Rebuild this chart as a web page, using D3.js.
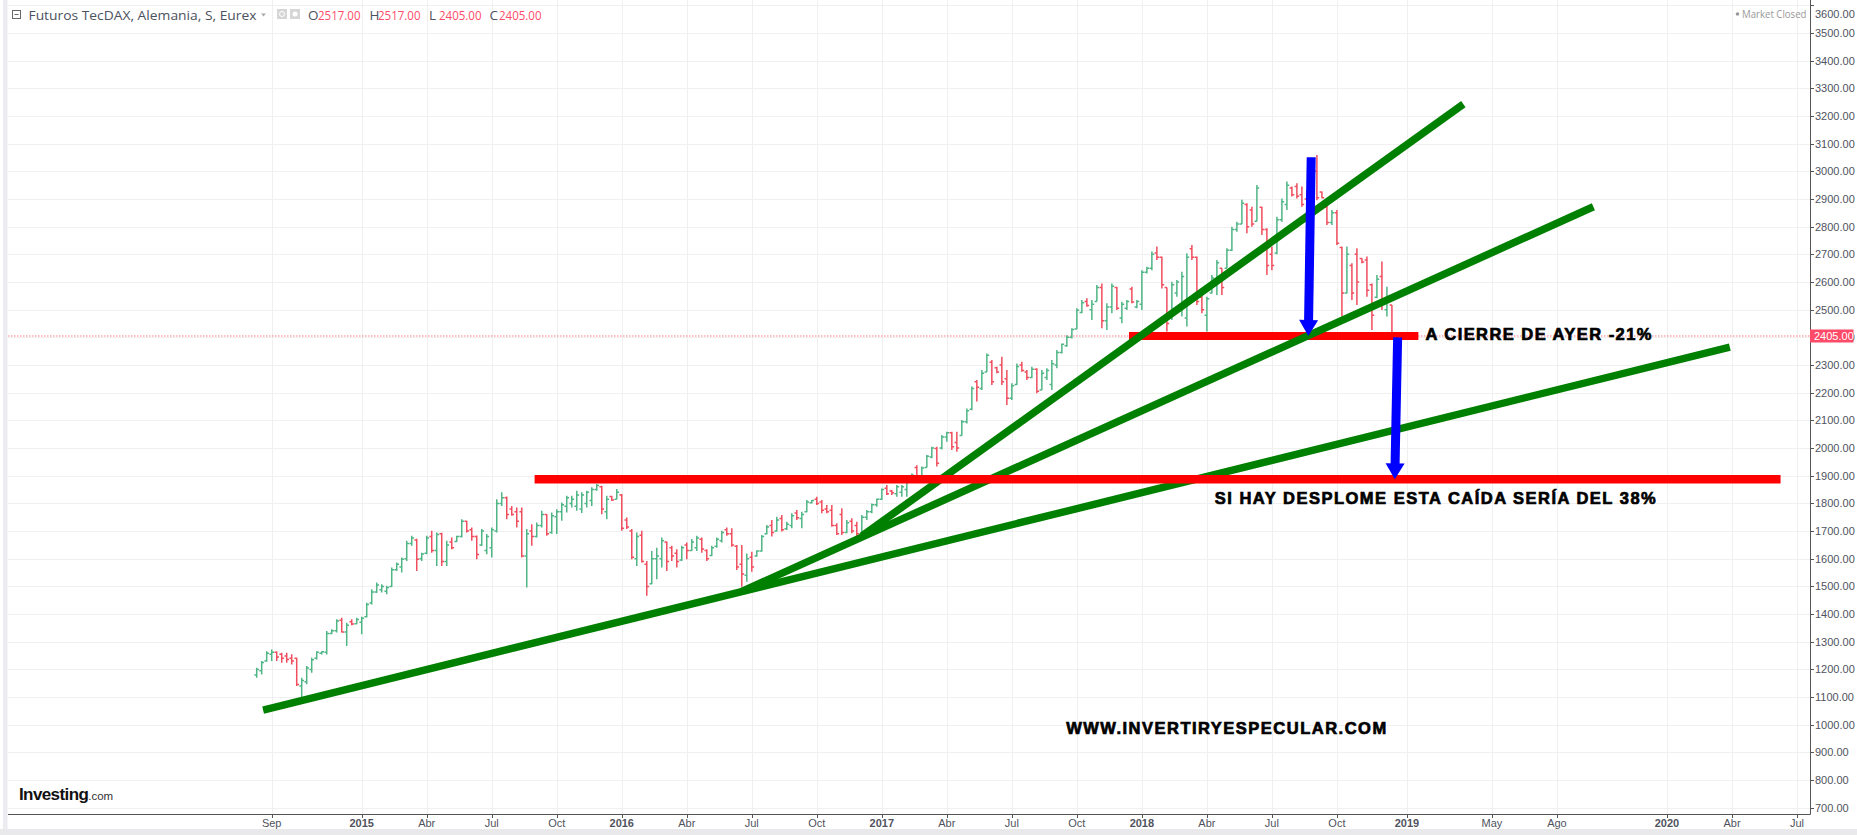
<!DOCTYPE html>
<html><head><meta charset="utf-8">
<script src="https://cdn.jsdelivr.net/npm/d3@7"></script>
<style>html,body{margin:0;padding:0;background:#fff;overflow:hidden}svg{display:block}</style>
</head><body>
<svg id="c" width="1857" height="835"></svg>
<script>
// ---------- DATA ----------
const title = "Futuros TecDAX, Alemania, S, Eurex";
const firstWeek = "2014-08-11";           // weekly bars, one per Monday
const open  = [1180,1195,1230,1255,1262,1255,1248,1240,1240,1140,1155,1200,1240,1258,1262,1330,1340,1378,1335,1372,1365,1370,1390,1440,1480,1488,1482,1500,1560,1570,1600,1655,1668,1600,1620,1680,1630,1690,1590,1660,1662,1680,1735,1705,1680,1650,1630,1640,1700,1800,1820,1780,1770,1770,1610,1700,1680,1720,1760,1695,1752,1770,1790,1800,1790,1780,1800,1810,1850,1860,1770,1825,1815,1830,1740,1700,1600,1685,1580,1510,1600,1600,1660,1640,1620,1595,1650,1630,1640,1670,1630,1612,1645,1665,1705,1690,1645,1580,1540,1605,1610,1628,1690,1720,1700,1745,1708,1720,1765,1745,1770,1802,1815,1805,1780,1775,1720,1760,1695,1735,1720,1690,1750,1770,1795,1815,1855,1845,1835,1840,1850,1880,1930,1900,1930,1968,1998,2000,2040,2055,2020,2045,2095,2140,2240,2215,2275,2310,2290,2300,2250,2180,2230,2300,2275,2255,2285,2210,2255,2230,2300,2345,2370,2400,2430,2490,2530,2500,2530,2580,2460,2510,2580,2470,2505,2575,2510,2520,2635,2650,2705,2690,2580,2470,2560,2500,2470,2720,2690,2545,2480,2560,2600,2650,2650,2715,2790,2810,2880,2860,2820,2870,2790,2700,2705,2825,2880,2940,2945,2915,2900,2850,3000,2925,2870,2815,2850,2725,2560,2660,2700,2685,2680,2590,2545,2620,2500,2517];
const high  = [1206,1230,1266,1272,1266,1260,1260,1255,1242,1170,1212,1242,1266,1266,1339,1345,1381,1387,1369,1381,1387,1390,1441,1490,1514,1508,1502,1568,1586,1604,1665,1683,1672,1622,1683,1701,1695,1694,1665,1677,1683,1743,1737,1713,1684,1707,1689,1713,1815,1840,1825,1791,1785,1785,1707,1725,1731,1773,1761,1767,1779,1803,1828,1828,1846,1840,1846,1858,1870,1864,1828,1828,1852,1834,1749,1707,1695,1701,1592,1628,1640,1677,1662,1647,1634,1647,1659,1671,1683,1677,1634,1647,1677,1701,1713,1710,1650,1650,1619,1625,1631,1686,1722,1740,1752,1758,1734,1764,1776,1770,1812,1812,1824,1812,1794,1794,1728,1782,1740,1746,1734,1758,1776,1800,1818,1854,1866,1848,1866,1866,1884,1908,1938,1933,1975,2005,2005,2047,2059,2059,2059,2101,2143,2222,2246,2282,2342,2318,2294,2330,2282,2234,2306,2312,2282,2294,2288,2282,2288,2318,2354,2378,2408,2433,2505,2535,2541,2535,2589,2595,2523,2595,2583,2529,2535,2583,2535,2643,2655,2710,2728,2692,2580,2601,2607,2637,2704,2734,2692,2559,2547,2625,2680,2650,2722,2800,2818,2897,2885,2872,2951,2872,2794,2728,2836,2902,2963,2945,2957,2945,2933,2930,3059,2927,2878,2860,2860,2728,2728,2668,2722,2686,2692,2595,2625,2674,2583,2517];
const low   = [1170,1182,1228,1230,1230,1224,1224,1218,1140,1098,1146,1188,1236,1254,1254,1327,1333,1333,1285,1360,1363,1327,1388,1435,1476,1478,1472,1498,1556,1550,1592,1647,1556,1592,1616,1622,1574,1574,1574,1634,1660,1677,1695,1665,1598,1646,1616,1604,1695,1791,1743,1755,1713,1604,1496,1647,1677,1713,1683,1690,1689,1737,1767,1785,1773,1765,1785,1791,1846,1761,1743,1809,1815,1701,1707,1598,1574,1586,1466,1508,1526,1568,1556,1592,1568,1592,1598,1628,1628,1622,1592,1610,1640,1659,1683,1643,1559,1499,1517,1553,1607,1625,1688,1680,1698,1698,1704,1710,1740,1710,1768,1800,1794,1764,1764,1716,1686,1686,1692,1692,1680,1680,1740,1764,1788,1812,1830,1830,1824,1824,1824,1878,1896,1896,1930,1963,1933,1995,2023,1993,1987,2045,2089,2137,2168,2210,2275,2228,2270,2228,2156,2174,2228,2276,2246,2252,2198,2210,2246,2210,2288,2342,2366,2396,2430,2487,2511,2463,2530,2433,2427,2487,2499,2451,2499,2523,2505,2499,2631,2643,2680,2577,2421,2463,2547,2475,2439,2680,2517,2487,2421,2559,2553,2553,2650,2712,2782,2810,2776,2800,2820,2770,2625,2643,2700,2818,2860,2909,2902,2872,2836,2840,2896,2903,2806,2806,2734,2475,2559,2535,2517,2668,2547,2427,2541,2499,2475,2405];
const close = [1200,1225,1258,1262,1245,1240,1236,1230,1145,1160,1205,1235,1262,1264,1330,1340,1375,1335,1360,1364,1380,1385,1435,1480,1505,1500,1496,1560,1580,1598,1655,1675,1598,1617,1675,1630,1688,1590,1650,1640,1680,1735,1700,1680,1615,1700,1680,1705,1800,1820,1760,1760,1735,1610,1690,1680,1720,1760,1690,1755,1770,1795,1820,1815,1830,1830,1840,1850,1865,1780,1815,1812,1840,1710,1715,1605,1680,1590,1500,1600,1610,1665,1590,1610,1590,1640,1630,1660,1675,1635,1600,1640,1670,1695,1690,1650,1570,1545,1600,1570,1628,1680,1715,1695,1740,1705,1725,1755,1748,1760,1805,1810,1800,1775,1770,1720,1690,1695,1730,1700,1690,1750,1770,1795,1815,1850,1835,1838,1860,1860,1878,1902,1900,1928,1970,2000,1945,2040,2055,2005,2000,2095,2135,2215,2220,2270,2335,2240,2275,2240,2180,2225,2295,2280,2255,2285,2205,2270,2280,2305,2345,2375,2400,2428,2498,2525,2515,2520,2580,2460,2510,2585,2505,2520,2530,2528,2530,2635,2650,2700,2690,2590,2450,2590,2600,2620,2690,2690,2530,2500,2540,2615,2670,2580,2715,2790,2810,2885,2800,2810,2940,2790,2660,2660,2825,2890,2950,2915,2910,2880,2850,2920,2905,2905,2815,2850,2740,2560,2700,2560,2600,2672,2570,2480,2610,2530,2540,2405];
const priceTicks = [700,800,900,1000,1100,1200,1300,1400,1500,1600,1700,1800,1900,2000,2100,2200,2300,2400,2500,2600,2700,2800,2900,3000,3100,3200,3300,3400,3500,3600];
const timeTickDates  = ["2014-09-01","2015-01-05","2015-04-06","2015-07-06","2015-10-05","2016-01-04","2016-04-04","2016-07-04","2016-10-03","2017-01-02","2017-04-03","2017-07-03","2017-10-02","2018-01-01","2018-04-02","2018-07-02","2018-10-01","2019-01-07","2019-05-06","2019-08-05","2020-01-06","2020-04-06","2020-07-06"];
const timeTickLabels = ["Sep","2015","Abr","Jul","Oct","2016","Abr","Jul","Oct","2017","Abr","Jul","Oct","2018","Abr","Jul","Oct","2019","May","Ago","2020","Abr","Jul"];
const lastPrice = 2405;
const legendOHLC = [["O","2517.00"],["H","2517.00"],["L","2405.00"],["C","2405.00"]];
// drawn annotations (date, value)
const greenLines = [
  [["2014-08-20",1053],["2020-04-03",2365]],
  [["2016-06-20",1482],["2019-09-25",2872]],
  [["2016-12-05",1682],["2019-03-27",3243]]
];
const redLines = [
  [["2017-12-14",2405],["2019-01-23",2405]],
  [["2015-09-04",1887],["2020-06-13",1887]]
];
const blueArrows = [
  [["2018-08-26",3051],["2018-08-22",2405]],
  [["2018-12-25",2400],["2018-12-21",1887]]
];
const notes = [
  {text:"A CIERRE DE AYER -21%", at:["2019-02-02",2390]},
  {text:"SI HAY DESPLOME ESTA CAÍDA SERÍA DEL 38%", at:["2018-04-13",1798]},
  {text:"WWW.INVERTIRYESPECULAR.COM", at:["2017-09-17",966]}
];

// ---------- SETUP ----------
const P = d3.utcParse("%Y-%m-%d");
const L = 8, R = 1810, T = 0, B = 814;
const x = d3.scaleUtc().domain([P("2014-09-01"), P("2020-07-06")]).range([271.7, 1797]);
const y = d3.scaleLinear().domain([677.4, 3619.3]).range([B, T]);
const svg = d3.select("#c");
const start = P(firstWeek);
const bars = open.map((o,i)=>({d:d3.utcMonday.offset(start,i), o, h:high[i], l:low[i], c:close[i]}));

svg.append("rect").attr("width",1857).attr("height",835).attr("fill","#fff");
svg.append("defs").append("clipPath").attr("id","clip").append("rect")
  .attr("x",L).attr("y",T).attr("width",R-L).attr("height",B-T);

// left toolbar strip & bottom strip
svg.append("rect").attr("x",3).attr("y",0).attr("width",4.5).attr("height",835).attr("fill","#ebebf0");
svg.append("rect").attr("x",0).attr("y",829).attr("width",1857).attr("height",6).attr("fill","#e9e9ec");

// grid
const grid = svg.append("g").attr("clip-path","url(#clip)");
grid.selectAll("line.h").data(priceTicks).join("line")
  .attr("x1",L).attr("x2",R).attr("y1",d=>Math.round(y(d))+0.5).attr("y2",d=>Math.round(y(d))+0.5)
  .attr("stroke","#f0f0f0").attr("stroke-width",1);
grid.selectAll("line.v").data(timeTickDates).join("line")
  .attr("x1",d=>Math.round(x(P(d)))+0.5).attr("x2",d=>Math.round(x(P(d)))+0.5).attr("y1",T).attr("y2",B)
  .attr("stroke","#f0f0f0").attr("stroke-width",1);

// last price dotted line
svg.append("line").attr("x1",L).attr("x2",R).attr("y1",y(lastPrice)).attr("y2",y(lastPrice))
  .attr("stroke","#ff5c6f").attr("stroke-width",1).attr("stroke-dasharray","1.5,1.5").attr("opacity",0.8);

// bars
const up = "#4fb585", dn = "#f04d5d";
const bg = svg.append("g").attr("clip-path","url(#clip)").attr("stroke-width",1.5).attr("fill","none");
bars.forEach(b=>{
  const cx = x(b.d), col = b.c>=b.o ? up : dn;
  const p = `M${cx},${y(b.h)}V${y(b.l)}M${cx-2.3},${y(b.o)}H${cx}M${cx},${y(b.c)}H${cx+2.3}`;
  bg.append("path").attr("d",p).attr("stroke",col);
});

// annotations
const ann = svg.append("g");
const pt = a => [x(P(a[0])), y(a[1])];
redLines.slice(0,1).forEach(s=>{
  const [a,b]=[pt(s[0]),pt(s[1])];
  ann.append("line").attr("x1",a[0]).attr("y1",a[1]).attr("x2",b[0]).attr("y2",b[1])
    .attr("stroke","#ff0000").attr("stroke-width",8);
});
greenLines.forEach(s=>{
  const [a,b]=[pt(s[0]),pt(s[1])];
  ann.append("line").attr("x1",a[0]).attr("y1",a[1]).attr("x2",b[0]).attr("y2",b[1])
    .attr("stroke","#008000").attr("stroke-width",7.5);
});
redLines.slice(1).forEach(s=>{
  const [a,b]=[pt(s[0]),pt(s[1])];
  ann.append("line").attr("x1",a[0]).attr("y1",a[1]).attr("x2",b[0]).attr("y2",b[1])
    .attr("stroke","#ff0000").attr("stroke-width",8.5);
});
blueArrows.forEach(s=>{
  const [a,b]=[pt(s[0]),pt(s[1])];
  const dx=b[0]-a[0], dy=b[1]-a[1], len=Math.hypot(dx,dy), ux=dx/len, uy=dy/len;
  const hl=16, hw=9.5, bx=b[0]-ux*hl, by=b[1]-uy*hl;
  ann.append("line").attr("x1",a[0]).attr("y1",a[1]).attr("x2",bx+ux*1).attr("y2",by+uy*1)
    .attr("stroke","#0000ff").attr("stroke-width",9);
  ann.append("polygon").attr("fill","#0000ff")
    .attr("points",[[b[0],b[1]],[bx-uy*hw,by+ux*hw],[bx+uy*hw,by-ux*hw]].map(p=>p.join(",")).join(" "));
});
const noteW = [226, 441, 320];
notes.forEach((n,i)=>{
  const p = pt(n.at);
  ann.append("text").attr("x",p[0]).attr("y",p[1]).text(n.text)
    .attr("font-family","Liberation Sans, Arial, sans-serif").attr("font-weight","bold")
    .attr("font-size",16.5).attr("fill","#000").attr("stroke","#000").attr("stroke-width",0.7)
    .attr("textLength",noteW[i]).attr("lengthAdjust","spacing");
});

// axes
const axisCol = "#50535e";
svg.append("line").attr("x1",L).attr("x2",R+0.5).attr("y1",B+0.5).attr("y2",B+0.5).attr("stroke","#555").attr("stroke-width",1);
svg.append("line").attr("x1",R+0.5).attr("x2",R+0.5).attr("y1",0).attr("y2",B+0.5).attr("stroke","#555").attr("stroke-width",1);
const ya = svg.append("g");
priceTicks.forEach(v=>{
  const yy = y(v);
  ya.append("line").attr("x1",R).attr("x2",R+4).attr("y1",Math.round(yy)+0.5).attr("y2",Math.round(yy)+0.5).attr("stroke","#555");
  ya.append("text").attr("x",R+5).attr("y",Math.max(yy,14)).attr("dy","0.35em").text(v.toFixed(2))
    .attr("font-family","Liberation Sans, Arial, sans-serif").attr("font-size",11).attr("fill",axisCol);
});
// last price label
ya.append("rect").attr("x",R).attr("y",y(lastPrice)-6.5).attr("width",43.5).attr("height",13).attr("fill","#ff4a68");
ya.append("text").attr("x",R+4).attr("y",y(lastPrice)).attr("dy","0.35em").text(lastPrice.toFixed(2))
  .attr("font-family","Liberation Sans, Arial, sans-serif").attr("font-size",11).attr("fill","#fff");

const xa = svg.append("g");
timeTickDates.forEach((d,i)=>{
  const xx = x(P(d)), lab = timeTickLabels[i], yr = /^\d{4}$/.test(lab);
  xa.append("line").attr("x1",Math.round(xx)+0.5).attr("x2",Math.round(xx)+0.5).attr("y1",B).attr("y2",B+4).attr("stroke","#555");
  xa.append("text").attr("x",xx).attr("y",823).attr("dy","0.35em").attr("text-anchor","middle").text(lab)
    .attr("font-family","Liberation Sans, Arial, sans-serif").attr("font-size",11)
    .attr("font-weight",yr?"bold":"normal").attr("fill",axisCol);
});

// header legend
const hd = svg.append("g").attr("font-family","Open Sans, Noto Sans, sans-serif");
hd.append("rect").attr("x",12.5).attr("y",10.5).attr("width",8).attr("height",8).attr("fill","none").attr("stroke","#666");
hd.append("line").attr("x1",14.5).attr("x2",18.5).attr("y1",14.5).attr("y2",14.5).attr("stroke","#666");
hd.append("text").attr("x",28.5).attr("y",20).text(title).attr("font-size",13.5).attr("fill","#4c525e")
  .attr("textLength",228).attr("lengthAdjust","spacingAndGlyphs");
hd.append("path").attr("d","M261,13.5h5l-2.5,3z").attr("fill","#aaa");
hd.append("rect").attr("x",277).attr("y",9).attr("width",10).attr("height",10).attr("fill","#d6d6d6");
hd.append("circle").attr("cx",282).attr("cy",14).attr("r",2.5).attr("fill","none").attr("stroke","#fff");
hd.append("rect").attr("x",290).attr("y",9).attr("width",10).attr("height",10).attr("fill","#d6d6d6");
hd.append("circle").attr("cx",295).attr("cy",14).attr("r",2.5).attr("fill","#fff");
const legX = [[308,318],[369.5,378],[429,439],[489.5,499]];
legendOHLC.forEach((p,i)=>{
  hd.append("text").attr("x",legX[i][0]).attr("y",20).text(p[0]).attr("font-size",13.5).attr("fill","#4c525e");
  hd.append("text").attr("x",legX[i][1]).attr("y",20).text(p[1]).attr("font-size",13.5).attr("fill","#ff4a68")
    .attr("textLength",42.5).attr("lengthAdjust","spacingAndGlyphs");
});
// market closed
svg.append("circle").attr("cx",1737.5).attr("cy",14).attr("r",1.8).attr("fill","#999");
svg.append("text").attr("x",1742).attr("y",14).attr("dy","0.35em").text("Market Closed")
  .attr("font-family","Open Sans, Noto Sans, sans-serif").attr("font-size",10.5).attr("fill","#999")
  .attr("textLength",64.5).attr("lengthAdjust","spacingAndGlyphs");

// logo
const lg = svg.append("text").attr("x",19).attr("y",800).attr("font-family","Liberation Sans Narrow, Liberation Sans, Arial, sans-serif");
lg.append("tspan").text("Investing").attr("font-size",17).attr("font-weight","bold").attr("fill","#111").attr("letter-spacing",-0.6);
lg.append("tspan").text(".com").attr("font-size",11.5).attr("fill","#333");
</script>
</body></html>
